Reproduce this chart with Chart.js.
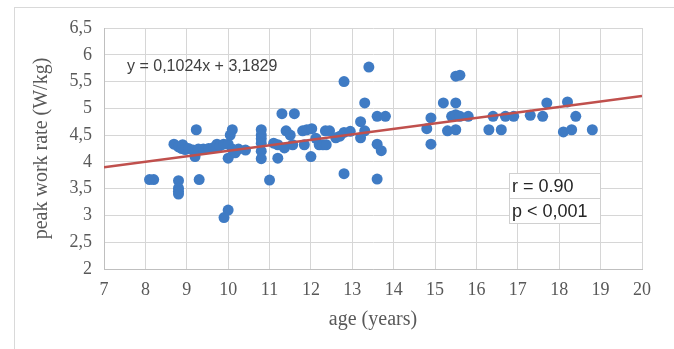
<!DOCTYPE html>
<html>
<head>
<meta charset="utf-8">
<script src="https://cdn.jsdelivr.net/npm/chart.js@4"></script>
<style>
  html, body { margin: 0; padding: 0; background: #fff; overflow: hidden; }
  #wrap { position: relative; width: 674px; height: 349px; }
  #frame { position: absolute; left: 14px; top: 7px; width: 700px; height: 400px; border: 1.5px solid #d9d9d9; }
  canvas { position: absolute; left: 0; top: 0; }
</style>
</head>
<body>
<div id="wrap">
  <div id="frame"></div>
  <canvas id="chart" width="674" height="349"></canvas>
</div>
<script>
// ages (years) and peak work rate (W/kg)
const ages = [
  8.1, 8.2, 8.8, 8.8, 8.8, 8.8, 8.69, 8.8, 8.88, 8.9, 8.96, 9.04, 9.15, 9.23, 9.2, 9.28, 9.3,
  9.4, 9.53, 9.65, 9.73, 9.8, 9.89, 9.9, 10.0, 10.0, 10.05, 10.1, 10.0, 10.1, 10.17, 10.25, 10.42,
  10.8, 10.8, 10.8, 10.8, 10.8, 10.8, 11.0, 11.1, 11.2, 11.2, 11.3, 11.6, 11.4, 11.5, 11.36, 11.56,
  11.8, 11.9, 12.02, 11.84, 12.0, 12.12, 12.2, 12.29, 12.37, 12.35, 12.45, 12.6, 12.7, 12.8, 12.95,
  12.8, 12.8, 13.2, 13.2, 13.3, 13.3, 13.4, 13.6, 13.8, 13.6, 13.7, 13.6,
  14.8, 14.9, 14.9, 15.2, 15.3, 15.5, 15.5, 15.5, 15.6, 15.4, 15.5, 15.6, 15.8, 16.3, 16.4, 16.6,
  16.7, 16.9, 17.3, 17.6, 17.7, 18.1, 18.2, 18.3, 18.4, 18.8
];
const rates = [
  3.67, 3.67, 3.65, 3.51, 3.45, 3.40, 4.33, 4.28, 4.25, 4.32, 4.23, 4.25, 4.22, 4.6, 4.1, 4.24, 3.67,
  4.24, 4.25, 4.27, 4.33, 4.3, 4.33, 2.96, 3.1, 4.33, 4.5, 4.6, 4.07, 4.24, 4.17, 4.24, 4.22,
  4.6, 4.5, 4.43, 4.35, 4.2, 4.06, 3.66, 4.35, 4.32, 4.07, 4.9, 4.9, 4.58, 4.5, 4.26, 4.32,
  4.58, 4.6, 4.62, 4.32, 4.1, 4.44, 4.32, 4.32, 4.32, 4.58, 4.58, 4.45, 4.48, 4.55, 4.57,
  3.78, 5.5, 4.75, 4.45, 4.58, 5.1, 5.77, 4.85, 4.85, 4.33, 4.21, 3.68,
  4.62, 4.82, 4.33, 5.1, 4.58, 5.1, 4.6, 5.6, 5.62, 4.85, 4.88, 4.85, 4.85, 4.6, 4.85, 4.6,
  4.85, 4.85, 4.87, 4.85, 5.1, 4.56, 5.12, 4.6, 4.85, 4.6
];
// linear trend line end points
const trendX = [7, 20];
const trendY = [3.90, 5.23];

const equationText = "y = 0,1024x + 3,1829";
const statsLines = ["r = 0.90", "p < 0,001"];

const tickFont = { family: "'Liberation Serif', 'DejaVu Serif', serif", size: 18 };
const titleFont = { family: "'Liberation Serif', 'DejaVu Serif', serif", size: 20 };

// draws the equation and the r / p box, like the Excel text boxes
const notesPlugin = {
  id: 'notes',
  afterDatasetsDraw(chart) {
    const ctx = chart.ctx;
    ctx.save();
    ctx.fillStyle = '#404040';
    ctx.font = "16px 'Liberation Sans', Arial, sans-serif";
    ctx.textBaseline = 'middle';
    ctx.textAlign = 'left';
    ctx.fillText(equationText, 127, 67);

    // r / p box
    const bx = 509, by = 173, bw = 91, bh = 50;
    ctx.fillStyle = '#fff';
    ctx.fillRect(bx, by, bw, bh);
    ctx.strokeStyle = '#d0d0d0';
    ctx.lineWidth = 1;
    ctx.strokeRect(bx + 0.5, by + 0.5, bw, bh);
    ctx.beginPath();
    ctx.moveTo(bx, by + 25.5);
    ctx.lineTo(bx + bw, by + 25.5);
    ctx.stroke();
    ctx.fillStyle = '#262626';
    ctx.font = "18px 'Liberation Sans', Arial, sans-serif";
    ctx.fillText(statsLines[0], bx + 3, by + 14);
    ctx.fillText(statsLines[1], bx + 3, by + 39);
    ctx.restore();
  }
};

new Chart(document.getElementById('chart'), {
  type: 'scatter',
  data: {
    datasets: [
      {
        type: 'line',
        label: 'trend',
        data: trendX.map((x, i) => ({ x: x, y: trendY[i] })),
        borderColor: '#c0504d',
        borderWidth: 2.5,
        pointRadius: 0,
        fill: false,
        order: 0
      },
      {
        label: 'peak work rate',
        data: ages.map((a, i) => ({ x: a, y: rates[i] })),
        backgroundColor: '#3f7bc4',
        borderWidth: 0,
        pointRadius: 5.5,
        pointHoverRadius: 5.5,
        order: 1
      }
    ]
  },
  options: {
    responsive: false,
    animation: false,
    layout: { padding: { left: 0, top: 28, right: 32, bottom: 0 } },
    plugins: {
      legend: { display: false },
      tooltip: { enabled: false }
    },
    scales: {
      x: {
        type: 'linear',
        min: 7,
        max: 20,
        ticks: { stepSize: 1, color: '#595959', font: tickFont, padding: 10 },
        grid: { color: '#d6d6d6', drawTicks: false },
        border: { color: '#bfbfbf' },
        title: {
          display: true,
          text: 'age (years)',
          color: '#595959',
          font: titleFont,
          padding: { top: 4, bottom: 17 }
        },
        afterFit: (scale) => { scale.height = 80; }
      },
      y: {
        min: 2,
        max: 6.5,
        ticks: {
          stepSize: 0.5,
          color: '#595959',
          font: tickFont,
          padding: 12,
          callback: (v) => String(v).replace('.', ',')
        },
        grid: { color: '#d6d6d6', drawTicks: false },
        border: { color: '#bfbfbf' },
        title: {
          display: true,
          text: 'peak work rate (W/kg)',
          color: '#595959',
          font: titleFont,
          padding: { top: 30, bottom: 4 }
        },
        afterFit: (scale) => { scale.width = 104; }
      }
    }
  },
  plugins: [notesPlugin]
});
</script>
</body>
</html>
